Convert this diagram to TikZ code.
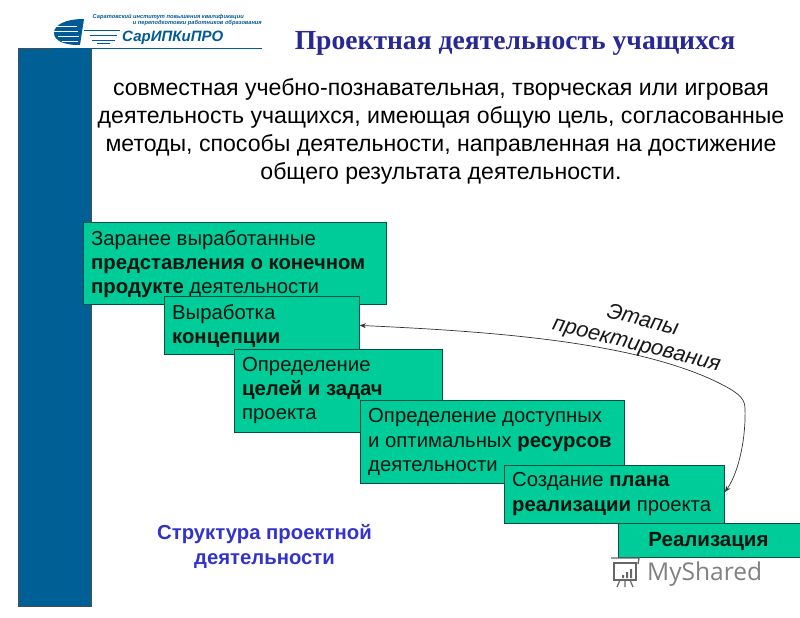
\documentclass[tikz,border=0pt]{standalone}
\usepackage{fontspec}
\setmainfont{Liberation Sans}
\newfontfamily\serifb{Liberation Serif}
\newfontfamily\shared{Open Sans}
\usetikzlibrary{arrows.meta}
\definecolor{bluebar}{RGB}{0,96,150}
\definecolor{boxfill}{RGB}{0,204,153}
\definecolor{boxedge}{RGB}{0,80,70}
\definecolor{headblue}{RGB}{40,40,150}
\definecolor{structblue}{RGB}{51,51,204}
\definecolor{logoblue}{RGB}{0,90,150}
\tikzset{
  stagebox/.style={draw=boxedge,line width=0.8pt,fill=boxfill,inner sep=0pt,anchor=north west,text=black!85!boxfill},
  boxtext/.style={anchor=north west,inner sep=0pt,align=left,font=\fontsize{20.3}{24.2}\selectfont,text=black!90!boxfill},
  lead/.style={align=center,inner sep=0pt,font=\fontsize{23.1}{28}\selectfont,text=black},
}
\begin{document}
\begin{tikzpicture}[x=1pt,y=-1pt]
\useasboundingbox (0,0) rectangle (800,618);
% bar
\node[draw=black!70,line width=0.5pt,fill=bluebar,minimum width=73pt,minimum height=558pt,inner sep=0pt,anchor=north west] (bar) at (18,48) {};
% logo
\fill[logoblue] (84,19) .. controls (65,19) and (54,25) .. (54,33) .. controls (54,41) and (65,45) .. (78,45) -- (80,45) -- (84,19) -- cycle;
\foreach \yy/\xa/\xb in {26/56/77,31/54/78,36/58/79,41/62/78}{\draw[white,line width=0.9pt] (\xa,\yy) -- (\xb,\yy);}
\draw[logoblue,line width=0.8pt] (84,30) -- (120,30);
\draw[logoblue,line width=0.8pt] (90,35) -- (117,35);
\draw[logoblue,line width=0.8pt] (92,40) -- (115,40);
\draw[logoblue,line width=0.8pt] (97,43.5) -- (110,43.5);
\draw[logoblue,line width=1.2pt] (52,48.5) -- (262,48.5);
\node[anchor=west,inner sep=0pt,text=logoblue,font=\fontsize{15}{15}\selectfont\bfseries\itshape] (logoname) at (122,37.5) {СарИПКиПРО};
\node[anchor=east,inner sep=0pt,text=logoblue,font=\fontsize{5.7}{5.7}\selectfont\bfseries\itshape] (logo1) at (244,17) {Саратовский институт повышения квалификации};
\node[anchor=east,inner sep=0pt,text=logoblue,font=\fontsize{5.7}{5.7}\selectfont\bfseries\itshape] (logo2) at (262,23.5) {и переподготовки работников образования};
% title
\node[inner sep=0pt,text=headblue,font=\fontsize{27.6}{27.6}\selectfont\serifb\bfseries] (title) at (515,43.5) {Проектная деятельность учащихся};
% lead
\node[lead] (lead) at (441,131.5) {совместная учебно-познавательная, творческая или игровая\\деятельность учащихся, имеющая общую цель, согласованные\\методы, способы деятельности, направленная на достижение\\общего результата деятельности.};
% boxes
\node[stagebox,minimum width=303pt,minimum height=82pt] (a) at (83,222) {};
\node[boxtext] (at) at (91,230.5) {Заранее выработанные\\\textbf{представления о конечном}\\\textbf{продукте} деятельности};
\node[stagebox,minimum width=195pt,minimum height=58pt] (b) at (164,296) {};
\node[boxtext] (bt) at (172,304.5) {Выработка\\\textbf{концепции}};
\node[stagebox,minimum width=208pt,minimum height=83pt] (c) at (234,349) {};
\node[boxtext] (ct) at (242,357) {Определение\\\textbf{целей и задач}\\проекта};
\node[stagebox,minimum width=264pt,minimum height=83pt] (d) at (360,400) {};
\node[boxtext] (dt) at (368,408.5) {Определение доступных\\и оптимальных \textbf{ресурсов}\\деятельности};
\node[stagebox,minimum width=220pt,minimum height=58pt] (e) at (504,465) {};
\node[boxtext] (et) at (512,472.5) {Создание \textbf{плана}\\\textbf{реализации} проекта};
\node[stagebox,minimum width=190pt,minimum height=34pt] (f) at (618,523) {};
\node[inner sep=0pt,font=\fontsize{20.5}{20.5}\selectfont\bfseries,text=black!90!boxfill] (ft) at (708.5,541) {Реализация};
% connector
\coordinate (tipb) at (b.east);
\coordinate (tipe) at (725,492);
\coordinate (knot) at (717,382);
\coordinate (bend) at (745,408);
\draw[black!80,line width=0.7pt,{Stealth[length=6pt,width=5pt]}-{Stealth[length=6pt,width=5pt]}]
  (tipb) .. controls (480,331) and (630,340) .. (knot)
  .. controls (735,391) and (745,397) .. (bend)
  .. controls (746,435) and (740,470) .. (tipe);
% rotated label
\node[inner sep=0pt,rotate=-14,align=center,font=\fontsize{21.8}{25}\selectfont\itshape,text=black!90] (stages) at (639.5,333) {Этапы\\проектирования};
% structure
\node[align=center,inner sep=0pt,text=structblue,font=\fontsize{20.3}{25}\selectfont\bfseries] (struct) at (264.5,546.5) {Структура проектной\\деятельности};
% watermark
\node[anchor=west,inner sep=0pt,text=black!50,font=\fontsize{24.5}{24.5}\selectfont\shared] (wm) at (647,574) {MyShared};
\draw[black!60,line width=1.4pt] (611,558) -- (639,558) -- (638,564);
\draw[black!60,line width=1.4pt] (614,563) rectangle (636,580);
\fill[black!60] (622,575) rectangle (624,578) (626,572) rectangle (628,578) (630,569) rectangle (632,578);
\draw[black!60,line width=1.2pt] (620,580) -- (617,587) (625,580) -- (625,587) (630,580) -- (633,587);
\end{tikzpicture}
\end{document}
